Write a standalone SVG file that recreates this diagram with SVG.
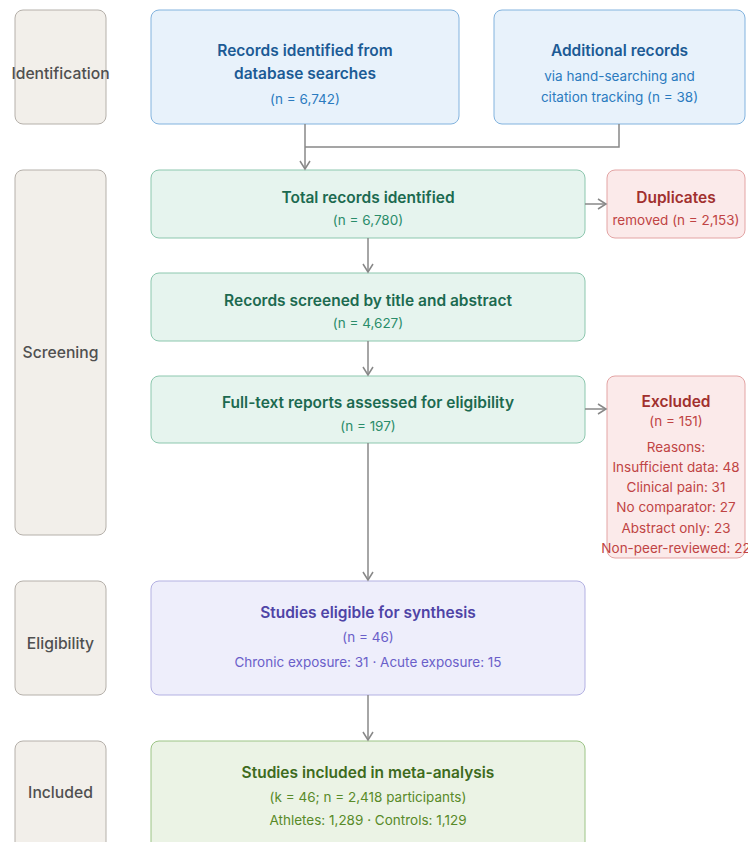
<svg xmlns="http://www.w3.org/2000/svg" width="748" height="842" viewBox="0 0 748 842">
<defs>
<marker id="arr" viewBox="0 0 12 12" refX="10" refY="6" markerWidth="12" markerHeight="12" markerUnits="userSpaceOnUse" orient="auto">
<path d="M2,1 L10,6 L2,11" fill="none" stroke="#888" stroke-width="1.5"/>
</marker>
<style>
text{font-family:Inter,"Noto Sans","Liberation Sans",sans-serif;text-anchor:middle}
.stage rect{fill:#f2efea;stroke:#b5b0aa;stroke-width:1}
.stage text{font-size:15.7px;font-weight:500;fill:#505050}
.t{font-size:15.5px;font-weight:600}
.s{font-size:13.5px}
.blue rect{fill:#e8f2fb;stroke:#82b3de}
.blue .t{fill:#1c5b95}.blue .s{fill:#2b7bbf}
.green rect{fill:#e6f4ee;stroke:#8cc7ae}
.green .t{fill:#1c6a50}.green .s{fill:#2a8c6a}
.red rect{fill:#fbeaea;stroke:#e3a4a4}
.red .t{fill:#a1302e}.red .s{fill:#c04444}
.purple rect{fill:#eeeefb;stroke:#b3b1e2}
.purple .t{fill:#4e44a6}.purple .s{fill:#6a5fc9}
.olive rect{fill:#ebf3e5;stroke:#9cc486}
.olive .t{fill:#3e6b1d}.olive .s{fill:#588a28}
.conn path{fill:none;stroke:#888;stroke-width:1.5}
</style>
</defs>
<rect width="748" height="842" fill="#fff"/>

<g id="stage-identification" class="stage"><rect x="15" y="10" width="91" height="114" rx="8"/><text x="60.5" y="79">Identification</text></g>
<g id="stage-screening" class="stage"><rect x="15" y="170" width="91" height="365" rx="8"/><text x="60.5" y="358">Screening</text></g>
<g id="stage-eligibility" class="stage"><rect x="15" y="581" width="91" height="114" rx="8"/><text x="60.5" y="649">Eligibility</text></g>
<g id="stage-included" class="stage"><rect x="15" y="741" width="91" height="114" rx="8"/><text x="60.5" y="798">Included</text></g>

<g id="records-db" class="blue"><rect x="151" y="10" width="308" height="114" rx="8"/>
<text class="t" x="305" y="56">Records identified from</text>
<text class="t" x="305" y="79">database searches</text>
<text class="s" x="305" y="104">(n = 6,742)</text></g>

<g id="records-additional" class="blue"><rect x="494" y="10" width="251" height="114" rx="8"/>
<text class="t" x="619.5" y="56">Additional records</text>
<text class="s" x="619.5" y="81">via hand-searching and</text>
<text class="s" x="619.5" y="102">citation tracking (n = 38)</text></g>

<g id="total-records" class="green"><rect x="151" y="170" width="434" height="68" rx="8"/>
<text class="t" x="368" y="203">Total records identified</text>
<text class="s" x="368" y="225">(n = 6,780)</text></g>

<g id="duplicates" class="red"><rect x="607" y="170" width="138" height="68" rx="8"/>
<text class="t" x="676" y="203">Duplicates</text>
<text class="s" x="676" y="225">removed (n = 2,153)</text></g>

<g id="screened" class="green"><rect x="151" y="273" width="434" height="68" rx="8"/>
<text class="t" x="368" y="306">Records screened by title and abstract</text>
<text class="s" x="368" y="328">(n = 4,627)</text></g>

<g id="fulltext" class="green"><rect x="151" y="376" width="434" height="67" rx="8"/>
<text class="t" x="368" y="408">Full-text reports assessed for eligibility</text>
<text class="s" x="368" y="431">(n = 197)</text></g>

<g id="excluded" class="red"><rect x="607" y="376" width="138" height="182" rx="8"/>
<text class="t" x="676" y="407">Excluded</text>
<text class="s" x="676" y="426">(n = 151)</text>
<text class="s" x="676" y="452">Reasons:</text>
<text class="s" x="676" y="472">Insufficient data: 48</text>
<text class="s" x="676" y="492">Clinical pain: 31</text>
<text class="s" x="676" y="512">No comparator: 27</text>
<text class="s" x="676" y="533">Abstract only: 23</text>
<text class="s" x="676" y="553">Non-peer-reviewed: 22</text></g>

<g id="eligible" class="purple"><rect x="151" y="581" width="434" height="114" rx="8"/>
<text class="t" x="368" y="618">Studies eligible for synthesis</text>
<text class="s" x="368" y="642">(n = 46)</text>
<text class="s" x="368" y="667">Chronic exposure: 31 · Acute exposure: 15</text></g>

<g id="included" class="olive"><rect x="151" y="741" width="434" height="114" rx="8"/>
<text class="t" x="368" y="778">Studies included in meta-analysis</text>
<text class="s" x="368" y="802">(k = 46; n = 2,418 participants)</text>
<text class="s" x="368" y="825">Athletes: 1,289 · Controls: 1,129</text></g>

<g id="connectors" class="conn">
<path d="M305,124 V169" marker-end="url(#arr)"/>
<path d="M619,124 V147 H305"/>
<path d="M585,204 H606" marker-end="url(#arr)"/>
<path d="M368,238 V272" marker-end="url(#arr)"/>
<path d="M368,341 V375" marker-end="url(#arr)"/>
<path d="M585,409 H606" marker-end="url(#arr)"/>
<path d="M368,443 V580" marker-end="url(#arr)"/>
<path d="M368,695 V740" marker-end="url(#arr)"/>
</g>
</svg>
